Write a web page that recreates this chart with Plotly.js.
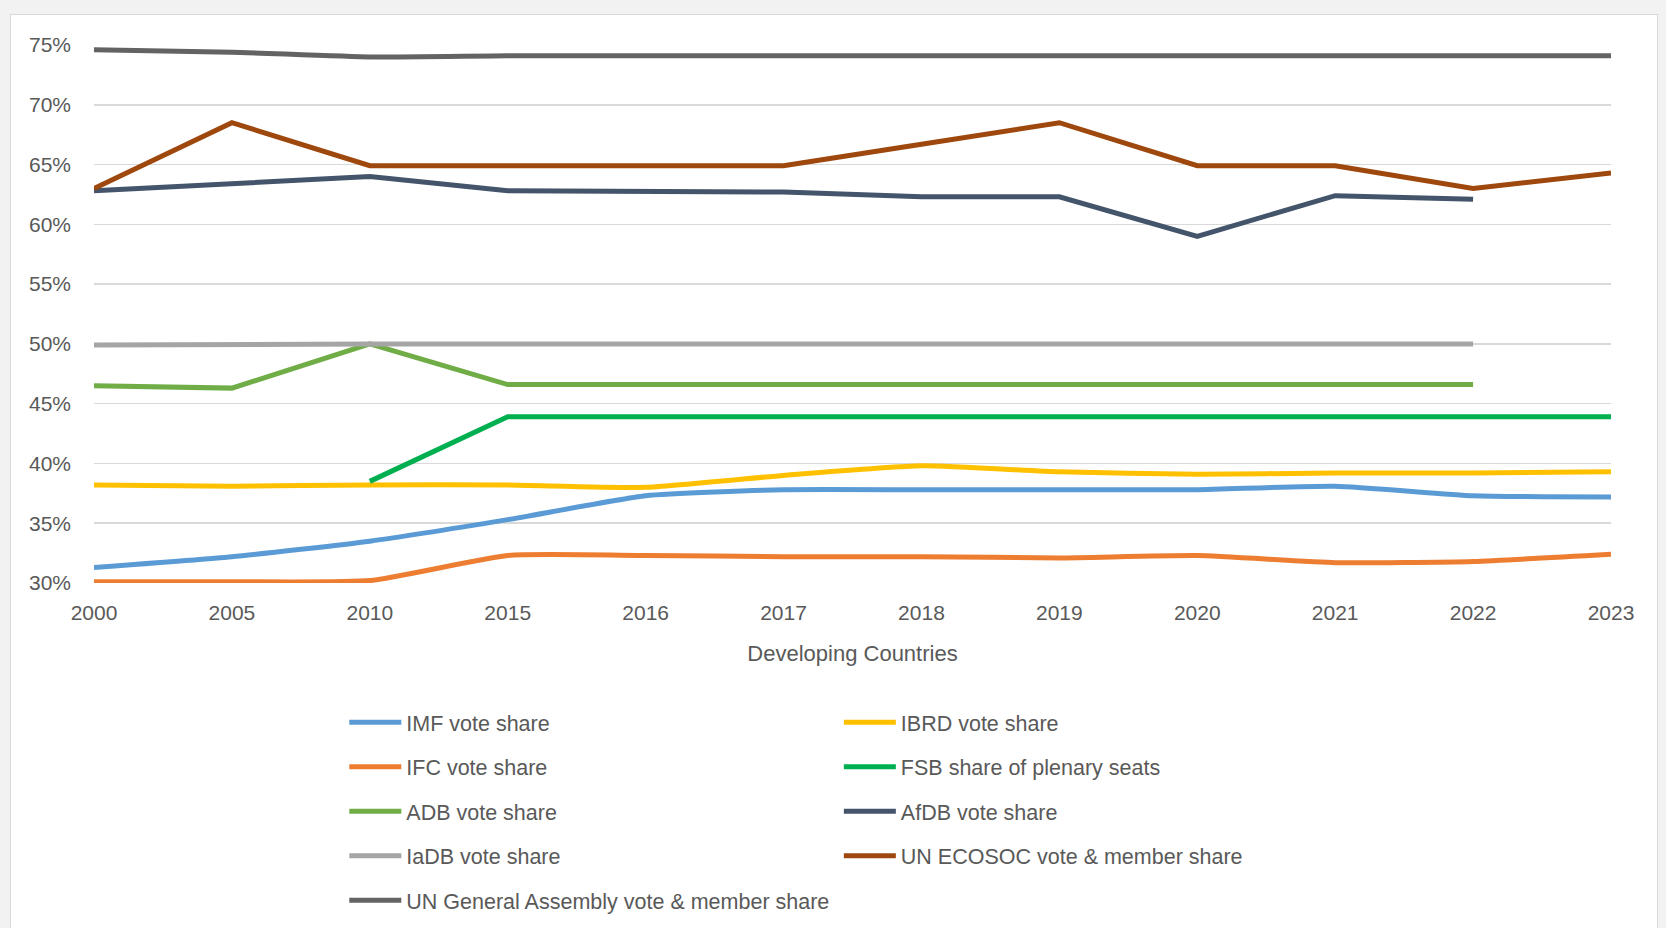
<!DOCTYPE html>
<html>
<head>
<meta charset="utf-8">
<script src="https://cdn.plot.ly/plotly-3.0.1.min.js"></script>
<style>
  html, body { margin: 0; padding: 0; background: #f2f2f2; width: 1666px; height: 928px; overflow: hidden; }
  #frame { position: absolute; left: 10px; top: 14px; width: 1648px; height: 1000px; background: #ffffff; border: 1.5px solid #d9d9d9; box-sizing: border-box; overflow: hidden; }
  #chart { position: absolute; left: 0; top: 0; width: 1645px; height: 1000px; }
</style>
</head>
<body>
<div id="frame"><div id="chart"></div></div>
<script>
const years = ['2000','2005','2010','2015','2016','2017','2018','2019','2020','2021','2022','2023'];

const imfVote    = [31.3, 32.2, 33.5, 35.3, 37.3, 37.8, 37.8, 37.8, 37.8, 38.1, 37.3, 37.2];
const ibrdVote   = [38.2, 38.1, 38.2, 38.2, 38.0, 39.0, 39.8, 39.3, 39.1, 39.2, 39.2, 39.3];
const ifcVote    = [30.1, 30.1, 30.2, 32.3, 32.3, 32.2, 32.2, 32.1, 32.3, 31.7, 31.8, 32.4];
const fsbSeats   = [null, null, 38.5, 43.9, 43.9, 43.9, 43.9, 43.9, 43.9, 43.9, 43.9, 43.9];
const adbVote    = [46.5, 46.3, 50.0, 46.6, 46.6, 46.6, 46.5, 46.6, 46.6, 46.6, 46.6, null];
const afdbVote   = [62.8, 63.4, 64.0, 62.8, 62.8, 62.7, 62.3, 62.3, 59.0, 62.4, 62.1, null];
const iadbVote   = [49.9, 50.0, 50.0, 50.0, 50.0, 50.0, 50.0, 50.0, 50.0, 50.0, 50.0, null];
const ecosocShare= [63.0, 68.5, 64.9, 64.9, 64.9, 64.9, 66.7, 68.5, 64.9, 64.9, 63.0, 64.3];
const ungaShare  = [74.6, 74.4, 74.0, 74.1, 74.1, 74.1, 74.1, 74.1, 74.1, 74.1, 74.1, 74.1];

const yTicks = [30, 35, 40, 45, 50, 55, 60, 65, 70, 75];
const yTickText = yTicks.map(v => v + '%');

const FONT = '"Liberation Sans", Arial, sans-serif';
const GREY = '#595959';
const LW = 5;

function tr(name, y, color, legend, group, smooth) {
  return {
    type: 'scatter', mode: 'lines', name: name, x: years, y: y,
    legend: legend, legendgroup: group,
    line: { color: color, width: LW, shape: smooth ? 'spline' : 'linear', smoothing: smooth ? 0.5 : 0 },
    connectgaps: false, hoverinfo: 'x+y+name'
  };
}

const data = [
  tr('IMF vote share', imfVote, '#5b9bd5', 'legend', 'a', true),
  tr('IFC vote share', ifcVote, '#ed7d31', 'legend', 'b', true),
  tr('ADB vote share', adbVote, '#70ad47', 'legend', 'c', false),
  tr('IaDB vote share', iadbVote, '#a5a5a5', 'legend', 'd', false),
  tr('UN General Assembly vote & member share', ungaShare, '#636363', 'legend', 'e', true),
  tr('IBRD vote share', ibrdVote, '#ffc000', 'legend2', 'f', true),
  tr('FSB share of plenary seats', fsbSeats, '#00b050', 'legend2', 'g', false),
  tr('AfDB vote share', afdbVote, '#44546a', 'legend2', 'h', false),
  tr('UN ECOSOC vote & member share', ecosocShare, '#9e480e', 'legend2', 'i', false)
];

const legendCommon = {
  orientation: 'v', xanchor: 'left', yanchor: 'top',
  font: { family: FONT, size: 21.5, color: GREY },
  bgcolor: 'rgba(0,0,0,0)', borderwidth: 0,
  tracegroupgap: 13.5, itemwidth: 52, traceorder: 'grouped'
};

const layout = {
  width: 1645, height: 1000,
  margin: { l: 83, r: 45, t: 30, b: 432, pad: 0 },
  paper_bgcolor: 'rgba(0,0,0,0)',
  plot_bgcolor: '#ffffff',
  font: { family: FONT, size: 21, color: GREY },
  showlegend: true,
  legend: Object.assign({}, legendCommon, { x: 0.165, y: -0.221 }),
  legend2: Object.assign({}, legendCommon, { x: 0.491, y: -0.221 }),
  xaxis: {
    type: 'category', range: [0, 11],
    showgrid: false, showline: false, zeroline: false, ticks: '',
    tickfont: { family: FONT, size: 21, color: GREY },
    ticklabelstandoff: 15,
    title: { text: 'Developing Countries', font: { family: FONT, size: 22, color: GREY }, standoff: 22 }
  },
  yaxis: {
    range: [30, 75], tickmode: 'array', tickvals: yTicks, ticktext: yTickText,
    showgrid: true, gridcolor: '#d9d9d9', gridwidth: 1.6,
    showline: false, zeroline: false, ticks: '',
    tickfont: { family: FONT, size: 21, color: GREY },
    ticklabelstandoff: 22
  }
};

Plotly.newPlot('chart', data, layout, { displayModeBar: false, staticPlot: true });
</script>
</body>
</html>
